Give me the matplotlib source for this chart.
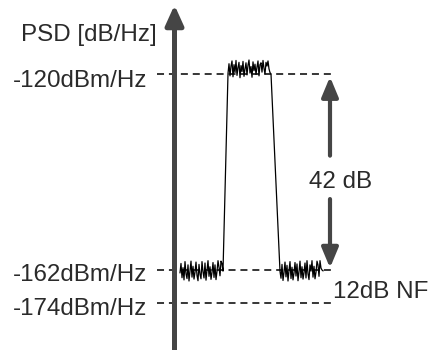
import matplotlib.pyplot as plt
import numpy as np

plt.rcParams['font.family'] = ['Liberation Sans', 'DejaVu Sans']

# PSD levels shown as dashed reference lines (dBm/Hz)
levels = [-120, -162, -174]
level_labels = ["-120dBm/Hz", "-162dBm/Hz", "-174dBm/Hz"]

# noisy spectrum (frequency in arbitrary units, PSD in dBm/Hz)
f_left = np.arange(180, 224)
psd_left = [-163.0, -160.6, -164.8, -161.5, -165.6, -160.2, -163.4, -165.1, -160.9, -166.0,
            -162.4, -160.1, -164.6, -161.2, -165.3, -162.8, -160.3, -164.0, -165.9, -160.8,
            -163.6, -165.2, -160.2, -162.7, -164.9, -160.5, -165.7, -162.2, -160.0, -164.3,
            -161.3, -165.4, -162.9, -160.4, -164.7, -160.9, -165.5, -162.5, -160.0, -161.4,
            -164.1, -160.1, -160.6, -162.4]
f_top = np.arange(228, 272)
psd_top = [-119.9, -117.8, -120.4, -118.3, -117.2, -120.6, -118.0, -119.7, -117.1, -120.3,
           -118.6, -117.5, -120.8, -118.2, -119.5, -117.3, -120.5, -118.9, -117.6, -120.2,
           -118.1, -117.0, -119.8, -118.4, -120.7, -117.4, -119.3, -117.9, -120.1, -118.5,
           -117.2, -120.4, -118.0, -117.6, -119.6, -117.1, -118.8, -120.0, -117.5, -118.3,
           -117.2, -118.9, -119.7, -120.0]
f_right = np.arange(280, 324)
psd_right = [-162.5, -165.0, -160.8, -165.8, -162.9, -160.3, -164.5, -161.0, -166.0, -162.2,
             -160.2, -165.1, -161.4, -165.6, -163.1, -160.4, -164.2, -160.7, -165.9, -162.6,
             -160.1, -164.8, -161.3, -165.3, -163.0, -160.5, -164.9, -160.0, -163.4, -165.5,
             -160.9, -162.4, -160.0, -164.6, -161.2, -165.2, -162.8, -160.1, -160.9, -164.3,
             -160.0, -161.6, -162.0, -162.3]

freq = np.concatenate([f_left, f_top, f_right])
psd = np.concatenate([psd_left, psd_top, psd_right])

# schematic (not to scale) dB axis: 12 dB NF gap drawn compressed
knots_db = [-250, -162, -50]
knots_pos = [-512, -270, 252.7]
fwd = lambda d: np.interp(d, knots_db, knots_pos)
inv = lambda p: np.interp(p, knots_pos, knots_db)

fig = plt.figure(figsize=(4.31, 3.5), dpi=100)
ax = fig.add_axes([0, 0, 1, 1])
ax.set_yscale('function', functions=(fwd, inv))
ax.set_xlim(0, 431)
ax.set_ylim(inv(-350), inv(0))
ax.axis('off')

txt = '#2a2a2a'
arr = '#454545'

ax.hlines(levels, 157, 333, colors='black', lw=1.1, linestyles=(0, (4.6, 3.2)), zorder=1)
ax.plot(freq, psd, color='black', lw=0.9, zorder=2)

# vertical PSD axis
ax.annotate('', xy=(174.5, inv(-5)), xytext=(174.5, inv(-352)),
            arrowprops=dict(arrowstyle='-|>,head_length=12,head_width=5.4', mutation_scale=1,
                            lw=3.6, color=arr, shrinkA=0, shrinkB=0), zorder=3)

# 42 dB span arrows
ax.annotate('', xy=(330, levels[0]), xytext=(330, -137.5),
            arrowprops=dict(arrowstyle='-|>,head_length=12,head_width=5', mutation_scale=1,
                            lw=3, color=arr, shrinkA=0, shrinkB=2), zorder=3)
ax.annotate('', xy=(330, levels[1]), xytext=(330, -146.8),
            arrowprops=dict(arrowstyle='-|>,head_length=12,head_width=5', mutation_scale=1,
                            lw=3, color=arr, shrinkA=0, shrinkB=1.5), zorder=3)

fs = 17.4
for lev, lab, dy in zip(levels, level_labels, [3.5, 1.5, 2.5]):
    ax.annotate(lab, xy=(147, lev), xytext=(0, -dy), textcoords='offset points',
                ha='right', va='center_baseline', fontsize=fs, color=txt)
ax.text(21, -111.2, "PSD [dB/Hz]", ha='left', va='center_baseline', fontsize=fs, color=txt)
ax.text(341, -142.7, "42 dB", ha='center', va='center_baseline', fontsize=fs, color=txt)
ax.text(333, -169.1, "12dB NF", ha='left', va='center_baseline', fontsize=fs, color=txt)

fig.savefig('out.png', dpi=100)
